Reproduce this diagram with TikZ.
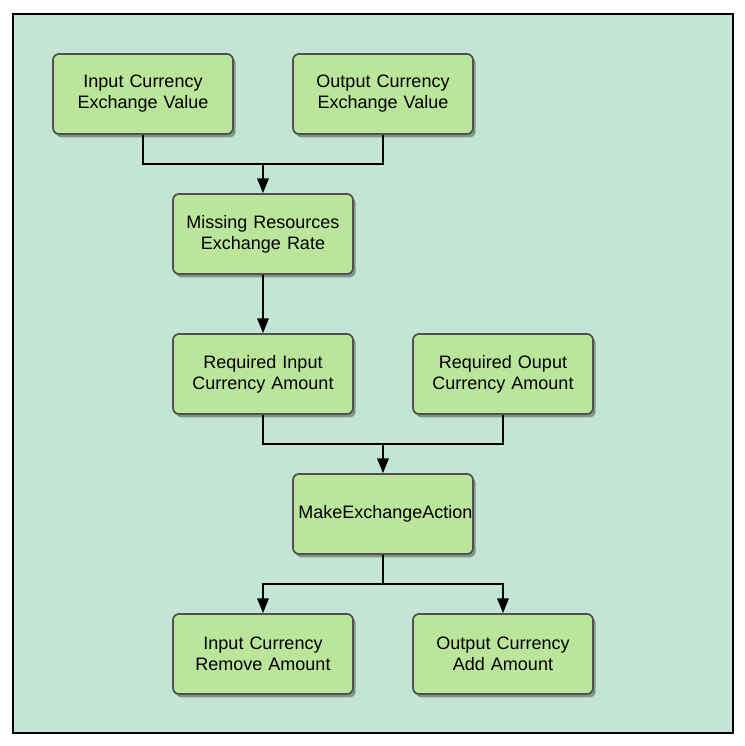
\documentclass[tikz,border=0pt]{standalone}
\usepackage{fontspec}
\setmainfont{Liberation Sans}
\usetikzlibrary{arrows.meta,shadows}
\definecolor{bgmint}{HTML}{C4E4D5}
\definecolor{boxgreen}{HTML}{BAE59B}
\definecolor{boxedge}{HTML}{505050}
\tikzset{
	stepbox/.style={draw=boxedge, line width=1.3pt, fill=boxgreen, rounded corners=4.5pt,
		minimum width=135pt, minimum height=60pt, text width=127pt, align=center,
		font=\fontsize{13.5}{15.8}\selectfont,
		drop shadow={shadow xshift=2pt, shadow yshift=-2.5pt, opacity=0.35, fill=black}},
	link/.style={line width=1.5pt, black},
	flow/.style={link, -{Triangle[length=11pt,width=8.5pt]}}
}
\begin{document}
\begin{tikzpicture}[x=0.75pt,y=-0.75pt]
		%%%%% FRAME %%%%%
		\useasboundingbox (0, 0) rectangle (744, 746);
		\draw[line width=1.5pt, fill=bgmint] (13, 14) rectangle (733, 733);
		
		%%%%% BOXES %%%%%
		\node[stepbox] (incur) at (143, 94) {Input Currency\\Exchange Value};
		\node[stepbox] (outcur) at (383, 94) {Output Currency\\Exchange Value};
		\node[stepbox] (missing) at (263, 234) {Missing Resources\\Exchange Rate};
		\node[stepbox] (reqin) at (263, 374) {Required Input\\Currency Amount};
		\node[stepbox] (reqout) at (503, 374) {Required Ouput\\Currency Amount};
		\node[stepbox] (make) at (383, 514) {MakeExchangeAction};
		\node[stepbox] (inrem) at (263, 654) {Input Currency\\Remove Amount};
		\node[stepbox] (outadd) at (503, 654) {Output Currency\\Add Amount};
		
		%%%%% JUNCTIONS %%%%%
		\coordinate (topjoin) at (263, 164);
		\coordinate (midjoin) at (383, 444);
		\coordinate (lowsplit) at (383, 584);
		
		%%%%% LINKS %%%%%
		\draw[link] (incur.south) |- (topjoin) -| (outcur.south);
		\draw[flow] (topjoin) -- (missing.north);
		\draw[flow] (missing.south) -- (reqin.north);
		\draw[link] (reqin.south) |- (midjoin) -| (reqout.south);
		\draw[flow] (midjoin) -- (make.north);
		\draw[link] (make.south) -- (lowsplit);
		\draw[flow] (lowsplit) -| (inrem.north);
		\draw[flow] (lowsplit) -| (outadd.north);
\end{tikzpicture}
\end{document}
